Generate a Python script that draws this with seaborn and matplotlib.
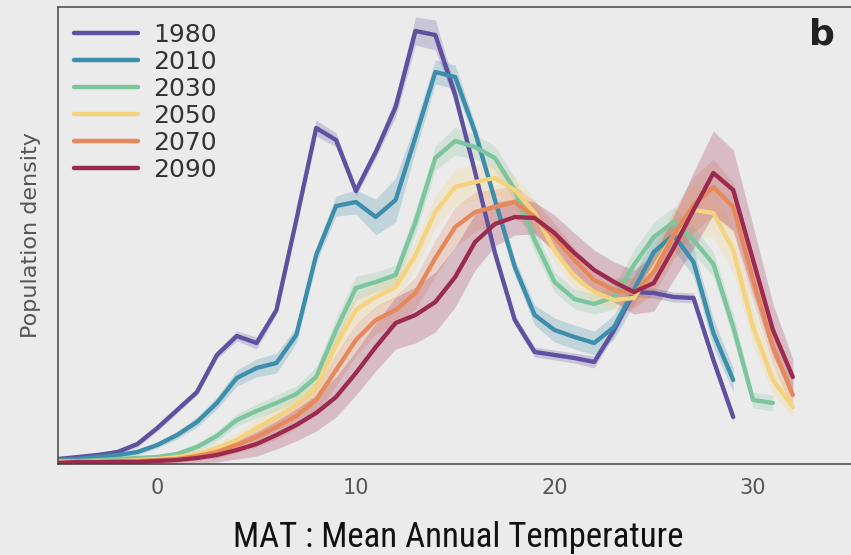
import matplotlib
matplotlib.use("Agg")
import matplotlib.pyplot as plt
from matplotlib import font_manager
import numpy as np
import pandas as pd
import seaborn as sns

# ---------------- data (density in arbitrary units) ----------------
years = ["1980", "2010", "2030", "2050", "2070", "2090"]
colors = ["#5f50a0", "#3d8eaa", "#7cc59d", "#f4d27e", "#e6885a", "#9c2a4f"]

mat_1980 = list(range(-5, 30))
mat_2010 = list(range(-5, 30))
mat_2030 = list(range(-5, 32))
mat_2050 = list(range(-5, 33))
mat_2070 = list(range(-5, 33))
mat_2090 = list(range(-5, 33))

dens_1980 = [5, 7, 9, 12, 20, 36, 54, 72, 109, 128, 121, 154, 244, 336, 324, 273, 312, 357,
             433, 429, 369, 292, 211, 144, 112, 109, 106, 102, 134, 172, 171, 167, 166, 104, 47]
dens_2010 = [4, 5, 7, 9, 12, 19, 29, 42, 61, 86, 96, 101, 129, 209, 258, 262, 247, 264,
             327, 392, 387, 332, 264, 197, 149, 134, 127, 121, 137, 174, 212, 229, 202, 131, 84]
dens_2030 = [3, 3, 4, 5, 6, 7, 10, 17, 28, 44, 53, 61, 70, 87, 134, 176, 182, 189,
             242, 306, 323, 317, 306, 274, 224, 182, 165, 160, 167, 199, 227, 242, 224, 200, 137, 64, 61]
dens_2050 = [2, 2, 3, 3, 4, 5, 7, 10, 16, 24, 36, 47, 59, 77, 119, 154, 167, 177,
             209, 252, 277, 282, 286, 274, 251, 214, 187, 172, 164, 166, 196, 229, 254, 251, 214, 137, 84, 57]
dens_2070 = [1, 2, 2, 3, 3, 4, 5, 8, 12, 19, 27, 37, 48, 64, 94, 124, 144, 154,
             171, 206, 237, 252, 257, 262, 247, 227, 204, 184, 174, 171, 192, 229, 259, 277, 257, 184, 117, 69]
dens_2090 = [1, 2, 2, 2, 2, 3, 4, 6, 9, 14, 20, 29, 39, 51, 67, 91, 117, 141,
             149, 162, 187, 222, 240, 247, 246, 231, 211, 194, 182, 172, 181, 216, 254, 291, 274, 204, 134, 87]

# half-width of the shaded uncertainty band
band_1980 = [2, 2, 2, 2, 3, 3, 3, 3, 4, 5, 6, 4, 4, 8, 7, 5, 6, 10,
             14, 15, 8, 5, 5, 5, 5, 5, 5, 6, 5, 5, 5, 5, 5, 5, 5]
band_2010 = [2, 2, 2, 2, 3, 3, 4, 5, 6, 8, 9, 10, 8, 8, 10, 12, 18, 22,
             14, 12, 12, 8, 8, 8, 10, 12, 12, 12, 12, 15, 15, 15, 14, 14, 12]
band_2030 = [2, 2, 2, 2, 2, 3, 3, 4, 5, 6, 7, 8, 8, 10, 12, 12, 10, 10,
             12, 12, 14, 12, 12, 12, 12, 10, 10, 10, 12, 15, 15, 15, 14, 12, 12, 8, 8]
band_2050 = [2, 2, 2, 2, 2, 3, 3, 4, 5, 7, 9, 10, 10, 12, 14, 14, 12, 12,
             14, 16, 18, 18, 16, 14, 14, 12, 10, 10, 10, 12, 18, 22, 25, 25, 22, 18, 14, 10]
band_2070 = [2, 2, 2, 2, 2, 3, 3, 4, 6, 8, 10, 12, 12, 14, 16, 16, 14, 14,
             16, 18, 20, 20, 18, 16, 16, 14, 12, 12, 12, 15, 22, 25, 28, 28, 25, 22, 18, 14]
band_2090 = [2, 2, 2, 2, 2, 3, 4, 5, 7, 9, 12, 14, 16, 18, 20, 22, 24, 26,
             28, 30, 30, 28, 22, 18, 16, 18, 20, 20, 20, 22, 28, 32, 38, 42, 40, 34, 26, 18]

tick_vals = [0, 10, 20, 30]
tick_labels = ["0", "10", "20", "30"]

# ---------------- long-format table for seaborn ----------------
series = {
    "1980": (mat_1980, dens_1980, band_1980),
    "2010": (mat_2010, dens_2010, band_2010),
    "2030": (mat_2030, dens_2030, band_2030),
    "2050": (mat_2050, dens_2050, band_2050),
    "2070": (mat_2070, dens_2070, band_2070),
    "2090": (mat_2090, dens_2090, band_2090),
}
rows = []
for yr in years:
    xs, ys, bs = series[yr]
    for x, y, b in zip(xs, ys, bs):
        for k in (-1, 0, 1):
            rows.append({"year": yr, "mat": x, "density": y + k * b})
df = pd.DataFrame(rows)

# ---------------- fonts ----------------
fonts = font_manager.fontManager.ttflist
names = {f.name for f in fonts}
MAIN = "DejaVu Sans"
xlabel_font = dict(family=["Liberation Sans", "DejaVu Sans"], fontsize=21)
if "Liberation Sans Narrow" in names:
    xlabel_font = dict(family=["Liberation Sans Narrow", "DejaVu Sans"], fontsize=25)
elif "Roboto Condensed" in names:
    xlabel_font = dict(family=["Roboto Condensed", "DejaVu Sans"], fontsize=25)

# ---------------- figure ----------------
BG = "#ebebeb"
sns.set_style("white")
plt.rcParams["font.family"] = [MAIN]

fig = plt.figure(figsize=(8.51, 5.55), dpi=100, facecolor=BG)
ax = fig.add_axes([58 / 851, 91 / 555, 793 / 851, 457 / 555])
ax.set_facecolor(BG)

sns.lineplot(data=df, x="mat", y="density", hue="year", hue_order=years,
             palette=colors, estimator="median", errorbar=("pi", 100),
             linewidth=3.1, err_kws={"alpha": 0.24, "linewidth": 0}, ax=ax)

ax.set_xlim(-5, 34.93)
ax.set_ylim(0, 457)

for side in ("left", "bottom", "top"):
    ax.spines[side].set_visible(True)
    ax.spines[side].set_color("#444444")
    ax.spines[side].set_linewidth(1.1)
ax.spines["right"].set_visible(False)

ax.set_xticks(tick_vals)
ax.set_xticklabels(tick_labels, family=MAIN)
ax.set_yticks([])
ax.tick_params(axis="x", direction="in", length=8.6, width=1, color="#555555",
               labelcolor="#555555", labelsize=15, pad=10)

ax.set_xlabel("")
ax.set_ylabel("Population density", fontsize=16, color="#555555", labelpad=12,
              family=MAIN)

fig.text(458 / 851, 1 - 538 / 555, "MAT : Mean Annual Temperature",
         ha="center", va="center", color="#111111", **xlabel_font)

ax.text(0.963, 0.939, "b", transform=ax.transAxes, ha="center", va="center",
        fontsize=26, fontweight="bold", color="#222222", family=MAIN)

old = ax.get_legend()
handles = old.legend_handles
labels = [t.get_text() for t in old.get_texts()]
old.remove()
leg = ax.legend(handles=handles, labels=labels, loc="upper left",
                bbox_to_anchor=(16 / 793, 0.966), frameon=False,
                prop={"family": MAIN, "size": 18}, handlelength=2.55,
                handletextpad=0.6, labelspacing=0.12, borderpad=0, borderaxespad=0)
for h in leg.legend_handles:
    h.set_linewidth(3.2)
for t in leg.get_texts():
    t.set_color("#333333")

fig.savefig("out.png", dpi=100, facecolor=BG)
